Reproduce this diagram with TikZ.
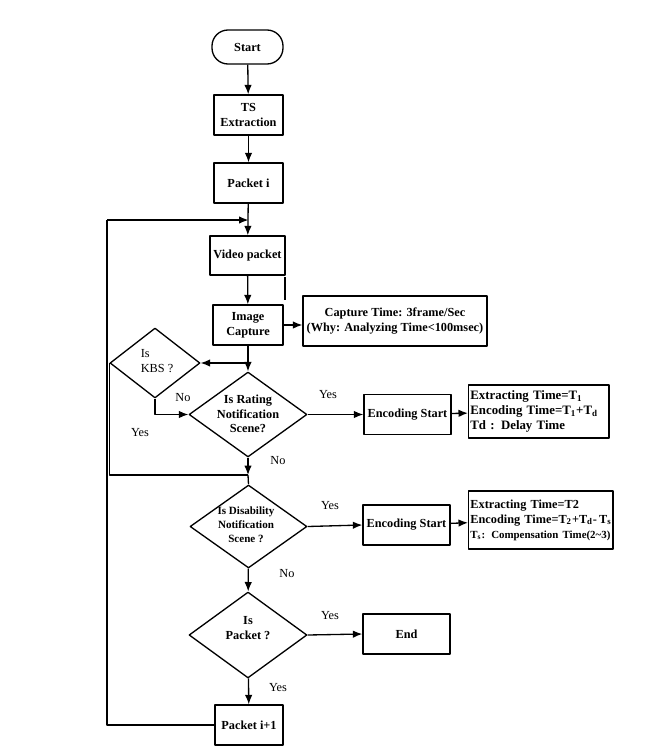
\documentclass[tikz,border=0pt]{standalone}
\usepackage{fontspec}
\setmainfont{Liberation Serif}
\usetikzlibrary{arrows.meta,positioning,shapes.geometric}

\begin{document}
\begin{tikzpicture}[x=0.02cm, y=-0.02cm, line join=round, >={Latex[length=1.9mm,width=1.5mm]}, line width=0.75pt,
  font=\fontsize{7}{8.4}\selectfont\bfseries,
  box/.style={draw, align=center, inner sep=1pt, minimum width=1.38cm, minimum height=0.8cm},
  infobox/.style={draw, align=left, inner sep=1pt, anchor=west},
  dia/.style={draw, diamond, inner sep=0pt},
  word/.style={font=\fontsize{7}{8.4}\selectfont}]
\useasboundingbox (0,0) rectangle (648,754);
% main column
\node[box, rounded corners=0.32cm, minimum width=1.42cm, minimum height=0.68cm] (start) at (247.5,47) {Start};
\node[box] (ts) at (248.5,115) {TS\\Extraction};
\node[box] (pkt) at (248.5,183) {Packet i};
\node[box, minimum width=1.5cm, minimum height=0.78cm] (video) at (247.5,255.5) {Video packet};
\node[box, minimum width=1.4cm] (capture) at (248,325) {Image\\Capture};
\node[box, minimum width=3.68cm, minimum height=1cm] (note) at (395,321) {Capture Time: 3frame/Sec\\(Why: Analyzing Time<100msec)};
% decisions
\node[dia, minimum width=1.8cm, minimum height=1.4cm] (kbs) at (155,363) {};
\node[word, align=left] at (157,361) {Is\\KBS ?};
\node[dia, minimum width=2.36cm, minimum height=1.7cm] (rate) at (248,414.5) {};
\node[align=center] at (248,414) {Is Rating\\Notification\\Scene?};
\node[dia, minimum width=2.34cm, minimum height=1.66cm] (dis) at (248.5,526.5) {};
\node[align=center, font=\fontsize{6.3}{8}\selectfont\bfseries] at (246,525) {Is Disability\\Notification\\Scene ?};
\node[dia, minimum width=2.36cm, minimum height=1.72cm] (ispkt) at (248,635) {};
\node[align=center] at (248,628) {Is\\Packet ?};
% right column
\node[box, minimum width=1.74cm] (enc1) at (407.5,414.5) {Encoding Start};
\node[infobox, minimum width=2.8cm, minimum height=1.06cm, text width=2.74cm, font=\fontsize{7.3}{8.6}\selectfont\bfseries] (info1) at (468,411.5)
  {Extracting Time=T\textsubscript{1}\\Encoding Time=T\textsubscript{1}+T\textsubscript{d}\\Td : Delay Time};
\node[box, minimum width=1.74cm] (enc2) at (406.5,525) {Encoding Start};
\node[infobox, minimum width=2.88cm, minimum height=1.16cm, text width=2.82cm, font=\fontsize{7}{8.6}\selectfont\bfseries] (info2) at (468,520)
  {\mbox{Extracting Time=T2}\\\mbox{Encoding Time=T\textsubscript{2}+T\textsubscript{d}-\,T\textsubscript{s}}\\\mbox{\fontsize{6.2}{8}\selectfont T\textsubscript{s}: Compensation Time(2\textasciitilde3)}};
\node[box, minimum width=1.74cm] (endbox) at (406.5,634) {End};
\node[box, minimum width=1.36cm] (next) at (249,725) {Packet i+1};
\coordinate (join) at (248,475);
\coordinate (loop) at (107,220);
\coordinate (top) at (248.5,220);
% connectors
\draw[->] (start) -- (ts);
\draw[->] (ts) -- (pkt);
\draw[->] (pkt) -- (video);
\draw[->] (video) -- (capture);
\draw[->] (capture.east) -- (capture.east -| note.west);
\draw[->] (capture) -- (rate);
\draw[->] (capture.south |- kbs.east) -- (kbs.east);
\draw[->] (kbs.south) |- (rate.west);
\draw (kbs.west) |- (join);
\draw[->] (rate.south) -- (join);
\draw (join) -- (dis.north);
\draw[->] (rate.east) -- (enc1.west);
\draw[->] (enc1) -- (info1);
\draw[->] (dis.east) -- (enc2.west);
\draw[->] (enc2) -- (info2);
\draw[->] (dis) -- (ispkt);
\draw[->] (ispkt.east) -- (endbox.west);
\draw[->] (ispkt) -- (next);
\draw (next.west) -| (loop);
\draw[->] (loop) -- (top);
\draw (285,277) -- (285,300);
% labels
\node[word] at (183,398) {No};
\node[word] at (140,433) {Yes};
\node[word] at (328,395) {Yes};
\node[word] at (278,461) {No};
\node[word] at (330,506) {Yes};
\node[word] at (287,574) {No};
\node[word] at (330,616) {Yes};
\node[word] at (278,688) {Yes};
\end{tikzpicture}
\end{document}
